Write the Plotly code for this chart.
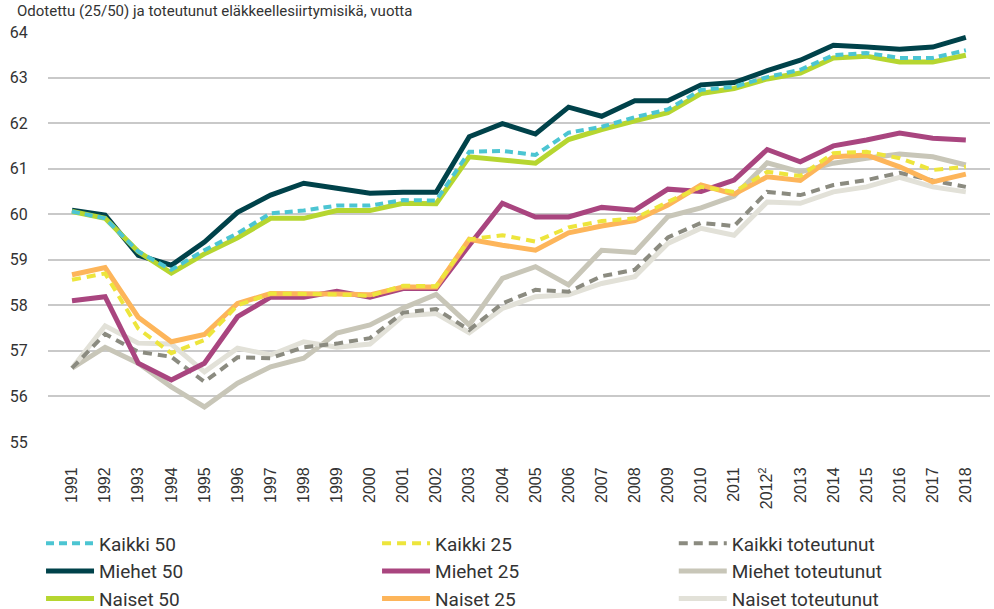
import plotly.graph_objects as go

years = [str(y) for y in range(1991, 2019)]
tick_labels = [("2012<sup>2</sup>" if y == "2012" else y) for y in years]

kaikki_50 = [60.06, 59.91, 59.18, 58.78, 59.21, 59.58, 60.02, 60.08, 60.19, 60.19, 60.31, 60.30,
             61.37, 61.39, 61.30, 61.79, 61.92, 62.13, 62.30, 62.73, 62.80, 63.01, 63.17, 63.49,
             63.54, 63.43, 63.43, 63.60]
miehet_50 = [60.09, 59.98, 59.10, 58.88, 59.39, 60.04, 60.42, 60.68, 60.57, 60.46, 60.48, 60.48,
             61.70, 61.99, 61.76, 62.35, 62.15, 62.49, 62.49, 62.84, 62.89, 63.15, 63.38, 63.71,
             63.67, 63.62, 63.67, 63.88]
naiset_50 = [60.06, 59.91, 59.18, 58.71, 59.13, 59.48, 59.91, 59.91, 60.08, 60.08, 60.24, 60.23,
             61.26, 61.19, 61.12, 61.64, 61.86, 62.05, 62.23, 62.65, 62.76, 62.97, 63.10, 63.43,
             63.47, 63.34, 63.34, 63.49]
kaikki_25 = [58.56, 58.70, 57.49, 56.95, 57.24, 58.00, 58.26, 58.26, 58.24, 58.21, 58.43, 58.42,
             59.45, 59.54, 59.40, 59.71, 59.85, 59.91, 60.27, 60.60, 60.49, 60.93, 60.84, 61.34,
             61.37, 61.23, 60.97, 61.04]
miehet_25 = [58.10, 58.19, 56.73, 56.36, 56.73, 57.75, 58.18, 58.18, 58.31, 58.18, 58.37, 58.37,
             59.32, 60.24, 59.94, 59.94, 60.15, 60.09, 60.55, 60.50, 60.75, 61.42, 61.15, 61.50,
             61.63, 61.78, 61.67, 61.63]
naiset_25 = [58.67, 58.83, 57.74, 57.20, 57.36, 58.04, 58.26, 58.26, 58.25, 58.23, 58.40, 58.40,
             59.45, 59.32, 59.21, 59.59, 59.74, 59.86, 60.20, 60.64, 60.44, 60.82, 60.74, 61.26,
             61.30, 61.04, 60.71, 60.88]
kaikki_tot = [56.62, 57.37, 56.98, 56.87, 56.32, 56.86, 56.84, 57.08, 57.16, 57.28, 57.84, 57.92,
              57.46, 58.04, 58.34, 58.30, 58.64, 58.78, 59.49, 59.81, 59.74, 60.49, 60.42, 60.64,
              60.75, 60.91, 60.74, 60.60]
miehet_tot = [56.62, 57.08, 56.73, 56.21, 55.77, 56.29, 56.65, 56.84, 57.39, 57.57, 57.94, 58.24,
              57.57, 58.59, 58.85, 58.45, 59.21, 59.16, 59.95, 60.14, 60.40, 61.13, 60.93, 61.12,
              61.23, 61.32, 61.26, 61.08]
naiset_tot = [56.62, 57.55, 57.17, 57.15, 56.54, 57.06, 56.91, 57.20, 57.08, 57.15, 57.77, 57.82,
              57.40, 57.93, 58.19, 58.23, 58.48, 58.63, 59.36, 59.69, 59.54, 60.27, 60.24, 60.49,
              60.60, 60.81, 60.60, 60.49]

y_ticks = [55, 56, 57, 58, 59, 60, 61, 62, 63, 64]
title_text = "Odotettu (25/50) ja toteutunut eläkkeellesiirtymisikä, vuotta"

# (name, values, color, dash, width, legend, rank)
series = [
    ("Miehet toteutunut", miehet_tot, "#C8C6B8", "solid", 5, "legend3", 2),
    ("Naiset toteutunut", naiset_tot, "#E2E1D8", "solid", 5, "legend3", 3),
    ("Kaikki toteutunut", kaikki_tot, "#8B8B80", "9px,6px", 4, "legend3", 1),
    ("Miehet 25", miehet_25, "#A9457F", "solid", 5, "legend2", 2),
    ("Naiset 25", naiset_25, "#FDB55A", "solid", 5, "legend2", 3),
    ("Kaikki 25", kaikki_25, "#EDE53C", "9px,6px", 4, "legend2", 1),
    ("Miehet 50", miehet_50, "#00424A", "solid", 5, "legend", 2),
    ("Naiset 50", naiset_50, "#B6D630", "solid", 5, "legend", 3),
    ("Kaikki 50", kaikki_50, "#4CC5D2", "8px,5px", 4, "legend", 1),
]

fig = go.Figure()
for name, vals, color, dash, width, leg, rank in series:
    fig.add_trace(go.Scatter(
        x=years, y=vals, name=name, mode="lines",
        line=dict(color=color, width=width, dash=dash),
        legend=leg, legendrank=rank, legendgroup=name,
    ))

legend_common = dict(
    orientation="v", yanchor="top", xanchor="left", yref="container", y=0.139,
    font=dict(family="Roboto", size=19, color="#333333"),
    bgcolor="rgba(0,0,0,0)", tracegroupgap=0, itemwidth=48,
)

fig.update_layout(
    width=994, height=609,
    margin=dict(l=48, r=4, t=32, b=167, autoexpand=False),
    paper_bgcolor="white", plot_bgcolor="white",
    showlegend=True,
    legend=dict(x=-0.0074, **legend_common),
    legend2=dict(x=0.3493, **legend_common),
    legend3=dict(x=0.6643, **legend_common),
    xaxis=dict(
        type="category", categoryorder="array", categoryarray=years,
        range=[-0.725, 27.73], automargin=False,
        tickmode="array", tickvals=years, ticktext=tick_labels,
        tickangle=-90, showgrid=False, zeroline=False, showline=False,
        ticks="outside", ticklen=18, tickcolor="rgba(0,0,0,0)",
        tickfont=dict(family="Liberation Sans", size=16, color="#333333"),
    ),
    yaxis=dict(
        range=[55, 64], tickmode="array", tickvals=y_ticks, automargin=False,
        showgrid=True, gridcolor="#C9C9C9", gridwidth=1.5, zeroline=False,
        showline=False, ticks="outside", ticklen=16, tickcolor="rgba(0,0,0,0)",
        tickfont=dict(family="Roboto", size=16, color="#333333"),
    ),
    annotations=[dict(
        text=title_text, xref="paper", yref="paper", x=-0.043, y=1.0,
        xanchor="left", yanchor="bottom", yshift=10, xshift=8, showarrow=False,
        font=dict(family="Roboto", size=15, color="#333333"),
    )],
)

fig.write_html("out.html", config={"displayModeBar": False},
               post_script="document.body.style.margin='0';")
